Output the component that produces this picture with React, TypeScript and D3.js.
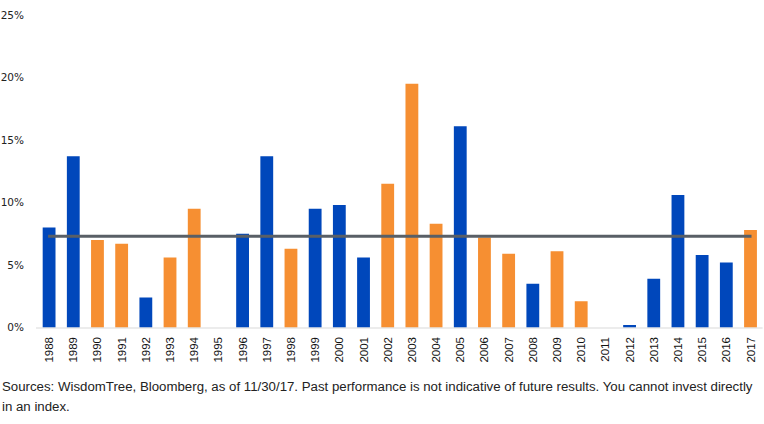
import React from "react";
import * as d3 from "d3";

const years = [
  "1988", "1989", "1990", "1991", "1992", "1993", "1994", "1995", "1996", "1997",
  "1998", "1999", "2000", "2001", "2002", "2003", "2004", "2005", "2006", "2007",
  "2008", "2009", "2010", "2011", "2012", "2013", "2014", "2015", "2016", "2017",
];
const returns = [
  8.0, 13.7, 7.0, 6.7, 2.4, 5.6, 9.5, 0, 7.5, 13.7,
  6.3, 9.5, 9.8, 5.6, 11.5, 19.5, 8.3, 16.1, 7.2, 5.9,
  3.5, 6.1, 2.1, 0, 0.2, 3.9, 10.6, 5.8, 5.2, 7.8,
];
// "b" = blue bar, "o" = orange bar
const groups = [
  "b", "b", "o", "o", "b", "o", "o", "b", "b", "b",
  "o", "b", "b", "b", "o", "o", "o", "b", "o", "o",
  "b", "o", "o", "b", "b", "b", "b", "b", "b", "o",
];
const average = 7.3;
const yTicks = [0, 5, 10, 15, 20, 25];
const sourceLines = [
  "Sources: WisdomTree, Bloomberg, as of 11/30/17. Past performance is not indicative of future results. You cannot invest directly",
  "in an index.",
];

const W = 764;
const H = 424;
const BLUE = "#0047BB";
const ORANGE = "#F68F32";

export default function App() {
  const x = d3
    .scaleBand<string>()
    .domain(years)
    .range([37, 762.6])
    .paddingInner(0.47)
    .paddingOuter(0.235);
  const y = d3.scaleLinear().domain([0, 25]).range([327.5, 15]);

  const first = x(years[0])! + x.bandwidth() / 2;
  const last = x(years[years.length - 1])! + x.bandwidth() / 2;

  return (
    <svg
      width={W}
      height={H}
      style={{ position: "absolute", left: 0, top: 0, background: "#fff" }}
    >
      {yTicks.map((t) => (
        <text
          key={t}
          x={24}
          y={y(t)}
          dy="0.35em"
          textAnchor="end"
          fontFamily="DejaVu Sans, Verdana, sans-serif"
          fontSize={10.5}
          fill="#222"
        >
          {t}%
        </text>
      ))}
      {years.map((yr, i) => (
        <rect
          key={yr}
          x={x(yr)}
          y={y(returns[i])}
          width={x.bandwidth()}
          height={y(0) - y(returns[i])}
          fill={groups[i] === "b" ? BLUE : ORANGE}
        />
      ))}
      <line x1={36} x2={762.6} y1={328} y2={328} stroke="#d9d9d9" strokeWidth={1} />
      <line
        x1={first - 1}
        x2={last + 1}
        y1={y(average)}
        y2={y(average)}
        stroke="#595F66"
        strokeWidth={3}
      />
      {years.map((yr) => (
        <text
          key={yr}
          transform={`translate(${x(yr)! + x.bandwidth() / 2},337) rotate(-90)`}
          dy="0.35em"
          textAnchor="end"
          fontFamily="Liberation Sans, Arial, sans-serif"
          fontSize={11.5}
          fill="#111"
        >
          {yr}
        </text>
      ))}
      {sourceLines.map((l, i) => (
        <text
          key={i}
          x={2}
          y={391 + i * 20}
          fontFamily="Liberation Sans, Arial, sans-serif"
          fontSize={13.25}
          fill="#222"
        >
          {l}
        </text>
      ))}
    </svg>
  );
}
